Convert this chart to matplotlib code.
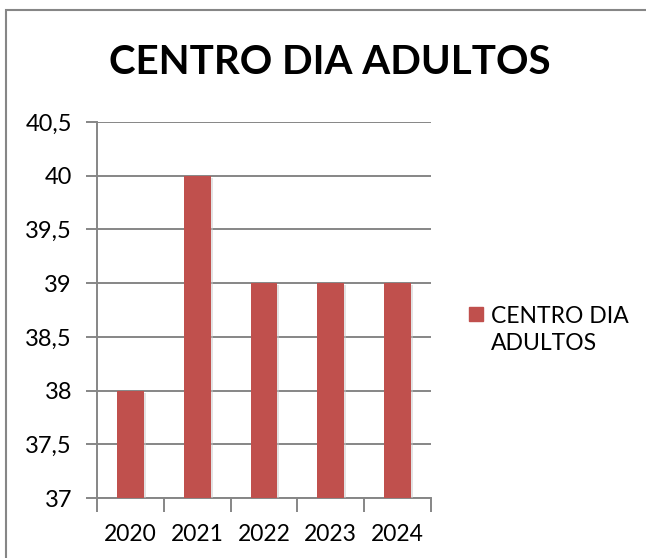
import numpy as np
import matplotlib
matplotlib.use('Agg')
import matplotlib.pyplot as plt
from matplotlib import patheffects
from matplotlib.patches import Rectangle
from matplotlib.ticker import FuncFormatter

# data
years = ['2020', '2021', '2022', '2023', '2024']
values = [38, 40, 39, 39, 39]
series_name = 'CENTRO DIA\nADULTOS'
title = 'CENTRO DIA ADULTOS'
y_ticks = [37, 37.5, 38, 38.5, 39, 39.5, 40, 40.5]

bar_color = '#C0504D'
grid_color = '#868686'

plt.rcParams['font.family'] = ['Lato', 'DejaVu Sans']

fig = plt.figure(figsize=(6.46, 5.58), dpi=100)
ax = fig.add_axes([97/646, 60/558, 334/646, 376/558])

x = np.arange(len(years))
bars = ax.bar(x, values, width=0.4, color=bar_color, zorder=3,
              label=series_name)
for b in bars:
    b.set_path_effects([patheffects.SimplePatchShadow(offset=(1.5, -1.5), shadow_rgbFace='#c8c8c8', alpha=0.5),
                        patheffects.Normal()])

ax.set_ylim(37, 40.5)
ax.set_xlim(-0.5, len(years) - 0.5)
ax.set_yticks(y_ticks)
ax.yaxis.set_major_formatter(FuncFormatter(lambda v, p: ('%g' % v).replace('.', ',')))
ax.set_xticks(x)
ax.set_xticklabels(years)
ax.set_xticks(np.arange(len(years) + 1) - 0.5, minor=True)

ax.grid(axis='y', color=grid_color, linewidth=1.4, zorder=0)
ax.set_axisbelow(True)
for s in ['top', 'right']:
    ax.spines[s].set_visible(False)
for s in ['left', 'bottom']:
    ax.spines[s].set_color(grid_color)
    ax.spines[s].set_linewidth(1.4)

ax.tick_params(axis='y', which='major', length=8, width=1.4, color=grid_color,
               labelsize=17, pad=10)
ax.tick_params(axis='x', which='major', length=0, labelsize=16.5, pad=19)
ax.tick_params(axis='x', which='minor', length=10, width=1.4, color=grid_color)

fig.text(330/646, 1 - 62/558, title, ha='center', va='center',
         fontsize=29, fontweight='bold')

# legend (handle + wrapped label, Excel style)
fig.add_artist(Rectangle((469/646, 1 - 321/558), 14/646, 14/558,
                         transform=fig.transFigure, color=bar_color))
fig.text(491/646, 1 - 330/558, series_name, ha='left', va='center',
         fontsize=16.5, linespacing=1.35)

border = Rectangle((6/646, -0.1), 1.0, (558 - 10)/558 + 0.1, transform=fig.transFigure,
                   fill=False, edgecolor=grid_color, linewidth=1.5)
fig.add_artist(border)

plt.savefig('out.png', dpi=100)
plt.close(fig)
